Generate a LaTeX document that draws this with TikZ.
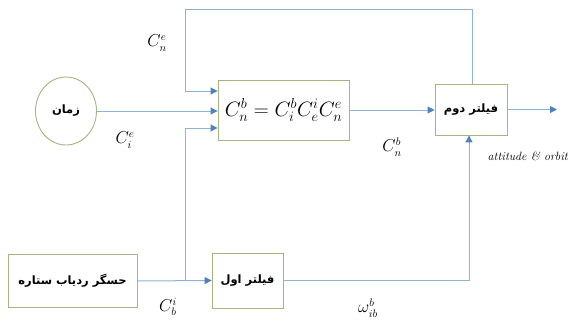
\documentclass[tikz,border=0pt]{standalone}
\usepackage{fontspec}
\usetikzlibrary{arrows.meta,shapes.geometric}
\TeXXeTstate=1
\newfontfamily\arabicfont[Script=Arabic]{DejaVu Sans}
\definecolor{linecol}{RGB}{140,178,214}
\definecolor{tipcol}{RGB}{79,129,189}
\definecolor{boxcol}{RGB}{170,178,130}
\tikzset{
  blk/.style={draw=boxcol, line width=0.9pt, rectangle, inner sep=0pt},
  conn/.style={draw=linecol, line width=1pt},
  arr/.style={conn, -{Triangle[length=7pt,width=7pt,fill=tipcol,color=tipcol]}},
  lbl/.style={font=\fontsize{16}{19}\selectfont, inner sep=0pt},
  fa/.style={font=\arabicfont\bfseries\fontsize{11.5}{14}\selectfont}
}
\begin{document}
\begin{tikzpicture}[x=1pt,y=-1pt]
\useasboundingbox (0,0) rectangle (576,322);
% blocks
\node[draw=boxcol, line width=0.9pt, ellipse, minimum width=61pt, minimum height=68pt, fa] (circ) at (66,111) {\beginR زمان\endR};
\node[blk, minimum width=131pt, minimum height=60pt, font=\fontsize{21}{25}\selectfont] (main) at (283.5,110) {$C_n^b = C_i^b C_e^i C_n^e$};
\node[blk, minimum width=72pt, minimum height=51pt, fa] (f2) at (471,109.5) {\beginR فیلتر دوم\endR};
\node[blk, minimum width=129pt, minimum height=53pt, fa] (star) at (72.5,281) {\beginR حسگر ردیاب ستاره\endR};
\node[blk, minimum width=71pt, minimum height=55pt, fa] (f1) at (247.5,280.5) {\beginR فیلتر اول\endR};
% helper coordinates
\coordinate (tr) at (472,9);
\coordinate (tl) at (185,9);
\coordinate (ml) at (185,91);
\coordinate (jn) at (185,281);
\coordinate (lo) at (185,128);
\coordinate (br) at (469,280.5);
\coordinate (out) at (557,109.5);
% connectors
\draw[arr] (circ.east) -- (circ.east -| main.west);
\draw[arr] (f2.north -| tr) -- (tr) -- (tl) -- (ml) -- (ml -| main.west);
\draw[arr] (main.east) -- (main.east -| f2.west);
\draw[arr] (f2.east) -- (out);
\draw[arr] (star.east) -- (f1.west);
\draw[arr] (jn) -- (lo) -- (lo -| main.west);
\draw[arr] (f1.east) -- (br) -- (br |- f2.south);
% labels
\node[lbl] (l1) at (157,43) {$C_n^e$};
\node[lbl] (l2) at (125,140) {$C_i^e$};
\node[lbl] (l3) at (392,147) {$C_n^b$};
\node[inner sep=0pt, font=\fontsize{12}{14}\selectfont] (l4) at (528,156) {\textit{attitude \& orbit}};
\node[lbl] (l5) at (168,307) {$C_b^i$};
\node[lbl] (l6) at (368,308) {$\omega_{ib}^b$};
\end{tikzpicture}
\end{document}
